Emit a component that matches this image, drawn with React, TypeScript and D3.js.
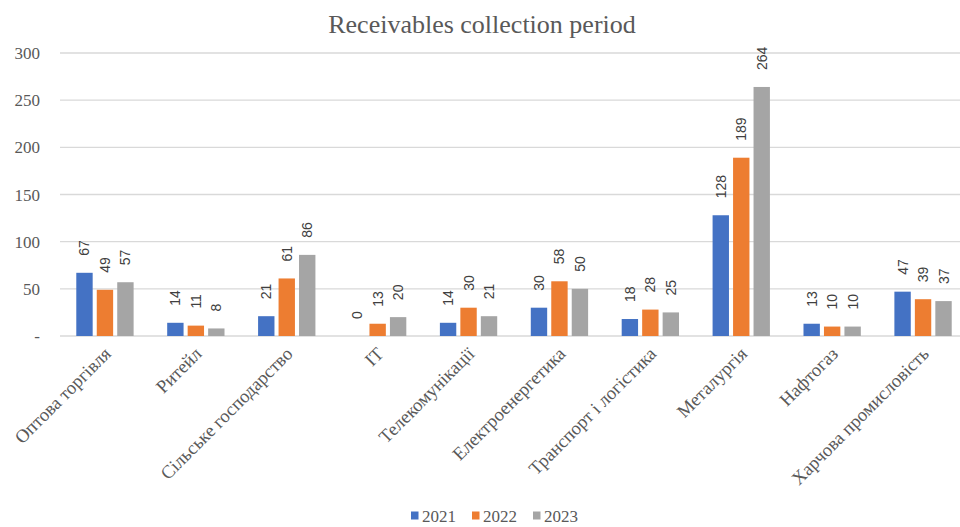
import React from "react";
import * as d3 from "d3";

const categories = [
  "Оптова торгівля",
  "Ритейл",
  "Сільське господарство",
  "IT",
  "Телекомунікації",
  "Електроенергетика",
  "Транспорт і логістика",
  "Металургія",
  "Нафтогаз",
  "Харчова промисловість",
];
const years = ["2021", "2022", "2023"];
const values2021 = [67, 14, 21, 0, 14, 30, 18, 128, 13, 47];
const values2022 = [49, 11, 61, 13, 30, 58, 28, 189, 10, 39];
const values2023 = [57, 8, 86, 20, 21, 50, 25, 264, 10, 37];
const yTicks = [0, 50, 100, 150, 200, 250, 300];
const colors = ["#4472C4", "#ED7D31", "#A5A5A5"];

const W = 960;
const H = 527;
const left = 59.5;
const right = 968.5;
const top = 53;
const bottom = 336;

export default function App() {
  const series = [values2021, values2022, values2023];
  const x = d3.scaleBand<string>().domain(categories).range([left, right]);
  const inner = d3
    .scaleBand<string>()
    .domain(years)
    .range([0, x.bandwidth()])
    .paddingInner(0.2)
    .paddingOuter(0.82);
  const y = d3.scaleLinear().domain([0, 300]).range([bottom, top]);
  const serif = "'Liberation Serif', 'Times New Roman', serif";
  const sans = "'Liberation Sans', Arial, sans-serif";

  return (
    <svg
      width={W}
      height={H}
      style={{ position: "absolute", left: 0, top: 0, background: "#fff" }}
    >
      <text
        x={482}
        y={33}
        textAnchor="middle"
        fontFamily={serif}
        fontSize={26}
        fill="#595959"
      >
        Receivables collection period
      </text>
      {yTicks.map((t) => (
        <g key={t}>
          <line
            x1={60}
            x2={W}
            y1={y(t)}
            y2={y(t)}
            stroke="#D9D9D9"
            strokeWidth={1.3}
          />
          <text
            x={40}
            y={y(t) + 6}
            textAnchor="end"
            fontFamily={serif}
            fontSize={17}
            fill="#595959"
          >
            {t === 0 ? "-" : t}
          </text>
        </g>
      ))}
      {categories.map((c, i) => (
        <g key={c}>
          {series.map((s, k) => {
            const v = s[i];
            const bx = (x(c) as number) + (inner(years[k]) as number);
            const bw = inner.bandwidth();
            return (
              <g key={k}>
                {v > 0 && (
                  <rect
                    x={bx}
                    y={y(v)}
                    width={bw}
                    height={y(0) - y(v)}
                    fill={colors[k]}
                  />
                )}
                <text
                  transform={`translate(${bx + bw / 2 + 5},${y(v) - 17}) rotate(-90)`}
                  fontFamily={sans}
                  fontSize={14}
                  fill="#404040"
                >
                  {v}
                </text>
              </g>
            );
          })}
          <text
            transform={`translate(${(x(c) as number) + x.bandwidth() / 2 + 7},${bottom + 19}) rotate(-45)`}
            textAnchor="end"
            fontFamily={serif}
            fontSize={18.5}
            fill="#595959"
          >
            {c}
          </text>
        </g>
      ))}
      {years.map((yr, k) => {
        const lx = 411 + k * 61;
        return (
          <g key={yr}>
            <rect x={lx} y={511.5} width={7.5} height={8} fill={colors[k]} />
            <text
              x={lx + 11}
              y={522}
              fontFamily={serif}
              fontSize={17}
              fill="#595959"
            >
              {yr}
            </text>
          </g>
        );
      })}
    </svg>
  );
}
